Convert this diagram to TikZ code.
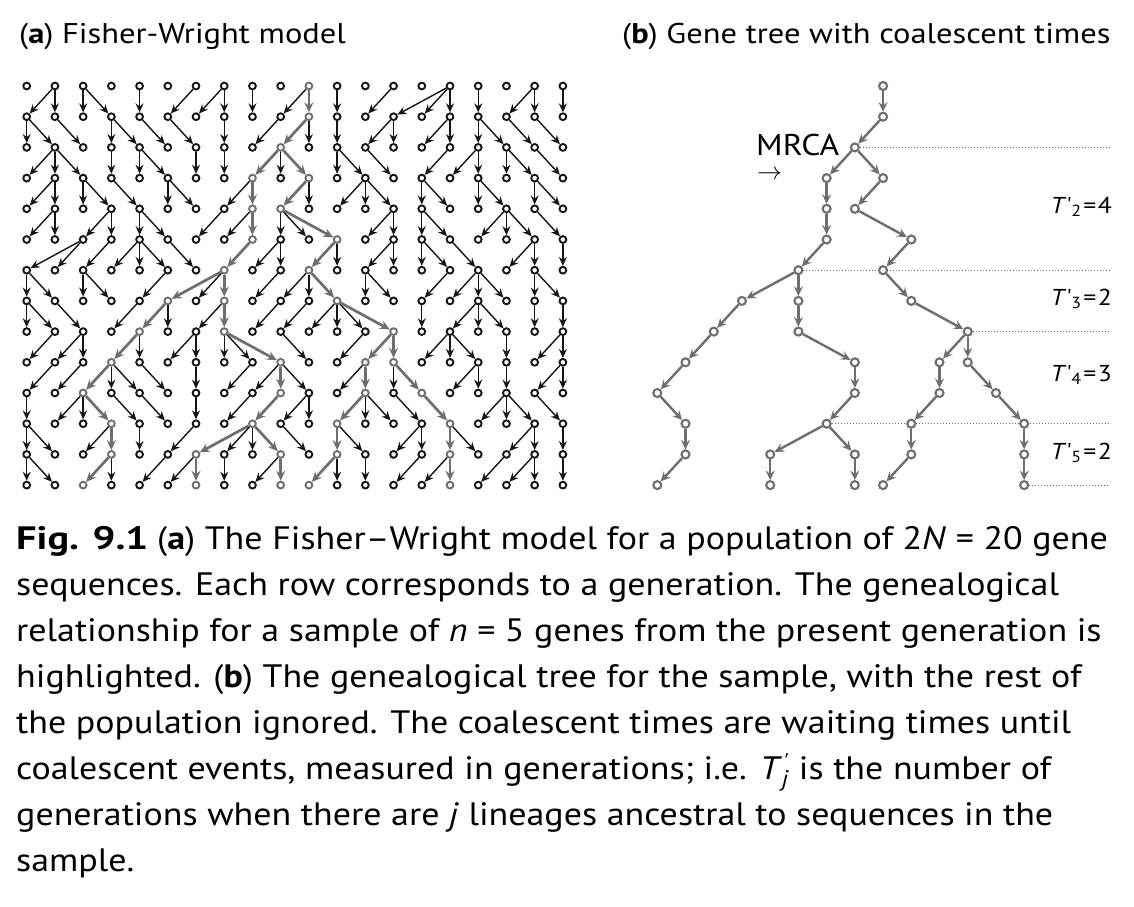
\documentclass[tikz,border=0pt]{standalone}
\usepackage{fontspec}
\setmainfont{PT Sans}
\newfontfamily\capfont[FakeStretch=1.11,Ligatures=TeX]{PT Sans}
\newfontfamily\figfont[FakeStretch=1.245]{PT Sans}
\newfontfamily\headfont[FakeStretch=1.14]{PT Sans}
\newfontfamily\lblfont[FakeStretch=1.12]{PT Sans}
\usetikzlibrary{arrows.meta,backgrounds}
\definecolor{lg}{HTML}{6E6E6E}
\definecolor{dg}{HTML}{151515}
\tikzset{
 bnode/.style={circle,draw=dg,fill=white,line width=1.9pt,minimum size=6.8pt,inner sep=0pt},
 gnode/.style={bnode,draw=lg},
 tnode/.style={circle,draw=lg,fill=white,line width=2.1pt,minimum size=8pt,inner sep=0pt},
 bedge/.style={draw=dg,line width=1.4pt,-{Stealth[length=9pt,width=8pt,inset=3pt]}},
 gedge/.style={draw=lg,line width=2.7pt,-{Stealth[length=10pt,width=9pt,inset=3.5pt]}},
 tedge/.style={draw=lg,line width=2.4pt,-{Stealth[length=9.5pt,width=9pt,inset=3.5pt]}},
 guide/.style={draw=lg,line width=1pt,dotted},
 lab/.style={inner sep=0pt,anchor=base west},
 tlab/.style={inner sep=0pt,anchor=base east,font=\lblfont\fontsize{23}{26}\selectfont},
 captxt/.style={inner sep=0pt,anchor=base west,font=\capfont\fontsize{32.4}{40}\selectfont},
}
\expandafter\def\csname prow1\endcsname{1,1,2,2,4,6,7,7,8,10,10,11,13,15,15,15,16,18,18,19}
\expandafter\def\csname prow2\endcsname{0,0,1,3,3,4,5,7,9,10,10,11,13,13,15,15,16,16,17,18}
\expandafter\def\csname prow3\endcsname{1,1,1,3,4,4,6,7,9,9,9,11,11,12,15,16,16,17,17,18}
\expandafter\def\csname prow4\endcsname{1,1,2,2,3,5,5,8,8,10,10,12,12,12,14,14,16,16,18,18}
\expandafter\def\csname prow5\endcsname{1,1,3,3,4,4,7,8,8,9,9,9,13,13,14,14,17,17,17,18}
\expandafter\def\csname prow6\endcsname{2,2,3,4,4,4,5,8,9,9,11,11,13,13,14,14,15,18,18,19}
\expandafter\def\csname prow7\endcsname{0,0,2,2,5,7,7,7,9,10,10,10,12,12,15,16,16,16,18,18}
\expandafter\def\csname prow8\endcsname{0,0,1,4,5,5,7,7,9,10,11,11,11,11,14,16,16,16,18,19}
\expandafter\def\csname prow9\endcsname{1,2,2,4,4,6,6,7,7,7,9,12,13,13,15,15,15,17,19,19}
\expandafter\def\csname prow10\endcsname{1,2,3,3,3,4,6,8,9,9,9,12,12,13,13,16,16,17,19,19}
\expandafter\def\csname prow11\endcsname{0,2,2,2,3,4,6,8,9,10,10,12,12,12,13,14,17,17,17,18}
\expandafter\def\csname prow12\endcsname{0,0,3,3,4,6,8,8,8,8,9,11,11,14,14,15,15,18,18,19}
\expandafter\def\csname prow13\endcsname{0,0,3,3,5,6,6,7,9,9,11,11,12,14,15,15,17,18,18,19}
\def\graynodes{0/10,1/10,2/9,3/8,3/10,4/8,4/9,5/8,5/11,6/7,6/10,7/5,7/7,7/11,8/4,8/7,8/13,9/3,9/9,9/12,9/13,10/2,10/9,10/12,10/14,11/3,11/8,11/11,11/15,12/3,12/6,12/9,12/11,12/15,13/2,13/6,13/9,13/10,13/15}
\foreach \r/\cl in \graynodes {\expandafter\gdef\csname gray@\r @\cl\endcsname{}}
\newcommand{\tq}{\textquotesingle}
\begin{document}
\begin{tikzpicture}[x=1pt,y=-1pt]
\useasboundingbox (0,0) rectangle (1134,906);
% nodes
\foreach \r in {0,...,13}{
 \foreach \cl in {0,...,19}{
  \ifcsname gray@\r @\cl\endcsname
    \node[gnode] (n-\r-\cl) at ({26.7+28.22*\cl},{86+30.7*\r}) {};
    \node[tnode] (b-\r-\cl) at ({600.86+28.22*\cl},{86+30.7*\r}) {};
  \else
    \node[bnode] (n-\r-\cl) at ({26.7+28.22*\cl},{86+30.7*\r}) {};
  \fi
 }}
% edges
\foreach \r in {1,...,13}{
  \pgfmathtruncatemacro\pr{\r-1}
  \edef\plist{\csname prow\r\endcsname}
  \foreach \p [count=\cc from 0] in \plist {
    \ifcsname gray@\r @\cc\endcsname
      \draw[gedge] (n-\pr-\p) -- (n-\r-\cc);
      \draw[tedge] (b-\pr-\p) -- (b-\r-\cc);
    \else
      \draw[bedge] (n-\pr-\p) -- (n-\r-\cc);
    \fi
  }
}
% background and dotted guides
\coordinate (gend) at (1110,0);
\begin{scope}[on background layer]
\fill[white] (0,0) rectangle (1134,906);
\draw[guide] (b-2-9) -- (b-2-9 -| gend);
\draw[guide] (b-6-7) -- (b-6-7 -| gend);
\draw[guide] (b-8-13) -- (b-8-13 -| gend);
\draw[guide] (b-11-8) -- (b-11-8 -| gend);
\draw[guide] (b-13-15) -- (b-13-15 -| gend);
\end{scope}
% labels
\node[lab,font=\headfont\fontsize{28.5}{32}\selectfont] (ha) at (19,43) {(\textbf{a}) Fisher-Wright model};
\node[lab,font=\headfont\fontsize{28.5}{32}\selectfont] (hb) at (622,43) {(\textbf{b}) Gene tree with coalescent times};
\node[lab,font=\lblfont\fontsize{30}{36}\selectfont] (mrca) at (756,155) {MRCA};
\node[inner sep=0pt,font=\fontsize{26}{30}\selectfont] (marr) at (769.5,175) {$\rightarrow$};
\node[tlab] (t2) at (1112,213) {\textit{T}\tq\textsubscript{2}\kern1.5pt=\kern1.5pt4};
\node[tlab] (t3) at (1112,305) {\textit{T}\tq\textsubscript{3}\kern1.5pt=\kern1.5pt2};
\node[tlab] (t4) at (1112,381) {\textit{T}\tq\textsubscript{4}\kern1.5pt=\kern1.5pt3};
\node[tlab] (t5) at (1112,459) {\textit{T}\tq\textsubscript{5}\kern1.5pt=\kern1.5pt2};
% caption
\node[lab,font=\figfont\fontsize{32.4}{40}\selectfont\bfseries] (c0) at (16,549) {Fig. 9.1};
\node[captxt] (c1) at (157,549) {(\textbf{a}) The Fisher--Wright model for a population of 2\textit{N} = 20 gene};
\node[captxt] (c2) at (16,595) {sequences. Each row corresponds to a generation. The genealogical};
\node[captxt] (c3) at (16,641) {relationship for a sample of \textit{n} = 5 genes from the present generation is};
\node[captxt] (c4) at (16,687) {highlighted. (\textbf{b}) The genealogical tree for the sample, with the rest of};
\node[captxt] (c5) at (16,733) {the population ignored. The coalescent times are waiting times until};
\node[captxt] (c6) at (16,779) {coalescent events, measured in generations; i.e. \textit{T}\rlap{\textsuperscript{\kern1pt\textit{\tq}}}\textsubscript{\textit{j}} is the number of};
\node[captxt] (c7) at (16,825) {generations when there are \textit{j} lineages ancestral to sequences in the};
\node[captxt] (c8) at (16,871) {sample.};
\end{tikzpicture}
\end{document}
